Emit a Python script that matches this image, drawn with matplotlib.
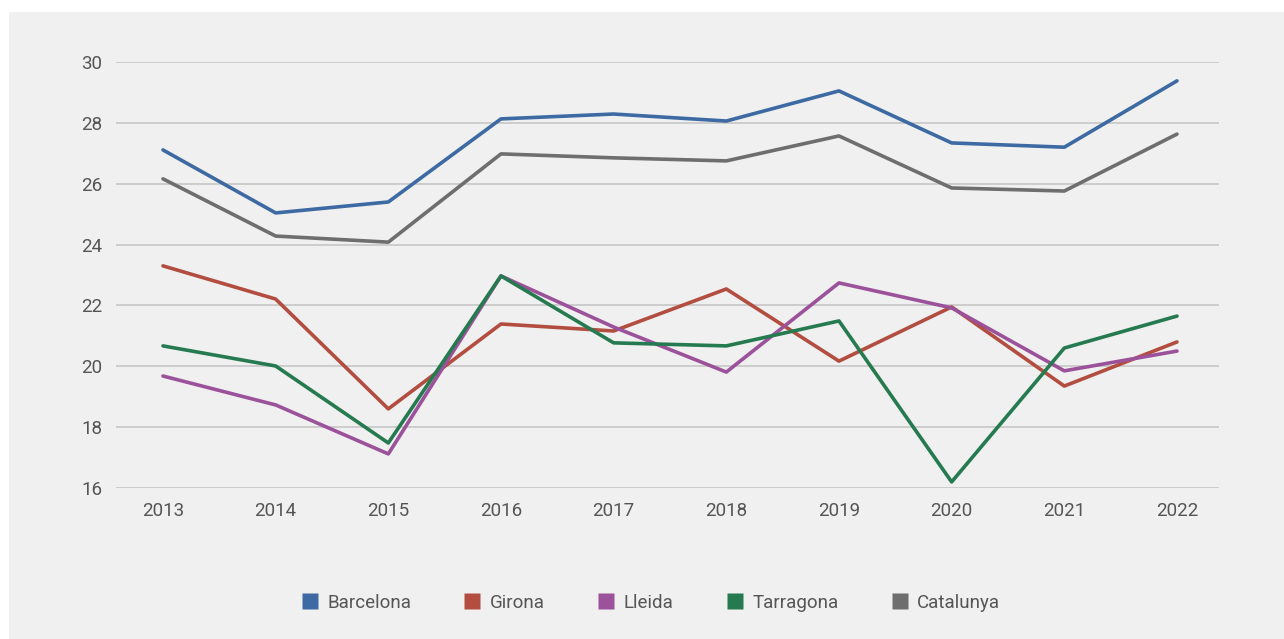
import matplotlib.pyplot as plt
from matplotlib.patches import Rectangle
from matplotlib.lines import Line2D

# dades llegides del grafic
anys = ['2013', '2014', '2015', '2016', '2017', '2018', '2019', '2020', '2021', '2022']
barcelona = [27.11, 25.04, 25.40, 28.13, 28.29, 28.06, 29.05, 27.34, 27.20, 29.38]
girona = [23.30, 22.21, 18.60, 21.39, 21.16, 22.54, 20.17, 21.95, 19.35, 20.80]
lleida = [19.68, 18.73, 17.12, 22.97, 21.29, 19.81, 22.74, 21.92, 19.85, 20.50]
tarragona = [20.67, 20.01, 17.48, 22.97, 20.77, 20.67, 21.49, 16.20, 20.60, 21.65]
catalunya = [26.16, 24.28, 24.08, 26.98, 26.85, 26.75, 27.57, 25.86, 25.76, 27.63]

noms = ['Barcelona', 'Girona', 'Lleida', 'Tarragona', 'Catalunya']
colors = ['#3d6aa3', '#b24d40', '#9b529b', '#267a4f', '#6e6e6e']
series = [barcelona, girona, lleida, tarragona, catalunya]

plt.rcParams['font.family'] = ['Roboto', 'DejaVu Sans']
text_col = '#555555'
bg = '#f0f0f0'

fig = plt.figure(figsize=(12.84, 6.39), dpi=100)
fig.patch.set_facecolor('white')
fig.patches.append(Rectangle((9 / 1284, 0), 1 - 9 / 1284, 1 - 12 / 639,
                             transform=fig.transFigure, facecolor=bg,
                             edgecolor='none', zorder=-10))

ax = fig.add_axes([116 / 1284, 1 - 488 / 639, (1219 - 116) / 1284, (488 - 62) / 639])
ax.patch.set_alpha(0)

x = list(range(len(anys)))
# la grisa primer perque quedi per sota
ordre = [4, 1, 2, 3, 0]
for i in ordre:
    ax.plot(x, series[i], color=colors[i], lw=2.6, solid_capstyle='round',
            solid_joinstyle='round', zorder=3)

ax.set_xlim(-0.417, 9.373)
ax.set_ylim(16, 30)
ax.set_yticks([16, 18, 20, 22, 24, 26, 28, 30])
ax.set_xticks(x)
ax.set_xticklabels(anys)
ax.grid(axis='y', color='#c6c6c6', lw=1.2)
ax.set_axisbelow(True)
for s in ax.spines.values():
    s.set_visible(False)
ax.tick_params(axis='both', length=0, labelsize=13.5, colors=text_col)
ax.tick_params(axis='y', pad=10)
ax.tick_params(axis='x', pad=10)

handles = [Line2D([], [], ls='none', marker='s', markersize=11.5, markerfacecolor=c,
                  markeredgecolor='none') for c in colors]
leg = fig.legend(handles, noms, loc='center', bbox_to_anchor=(651 / 1284, 1 - 603 / 639),
                 ncol=5, frameon=False, fontsize=13.5, handlelength=0.85,
                 handletextpad=0.5, columnspacing=2.85, labelcolor=text_col)

fig.savefig('out.png', dpi=100, facecolor=fig.get_facecolor())
